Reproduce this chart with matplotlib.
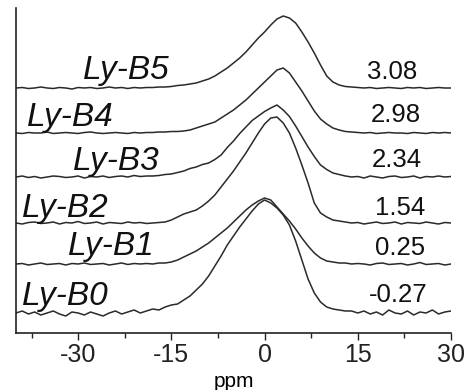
import matplotlib
matplotlib.use("Agg")
import matplotlib.pyplot as plt
from matplotlib.ticker import MultipleLocator
import numpy as np

plt.rcParams["font.family"] = ["Liberation Sans", "DejaVu Sans"]

# ── data: chemical shift (ppm) and spectra ──
ppm = list(range(-40, 31))

b0 = [0, 2, -1, 1, -2, 0, 2, -1, -3, 1, 0, -2, 1, -1, -3, 0, 2, -1, 1, 3, 0, 2,
      4, 3, 6, 8, 9, 13, 17, 23, 29, 37, 47, 57, 68, 77, 86, 94, 102, 109, 113,
      110, 105, 98, 88, 72, 53, 34, 20, 11, 6, 4, 3, 2, 2,
      0, 2, -1, 1, -2, 3, 0, -1, 2, -2, 1, 0, 3, -1, 1, 2]
b1 = [0, 0.5, -1, 0, 1, -0.5, 0, 0.5, -1, 0.5, 0, 1, -0.5, 0, 0.5, -1, 0, 1, -0.5, 0.5, 0, 0.5,
      0, 1, 1, 2, 4, 7, 10, 13, 17, 21, 26, 31, 36, 42, 48, 54, 59, 63, 66,
      64, 57, 50, 43, 35, 26, 18, 11, 6, 3, 2, 1, 1, 0,
      0.5, 0, -1, 0.5, 1, -0.5, 0, 0.5, -1, 0, 1.5, -0.5, 0, 0.5, -1, 0]
b2 = [0, -1, 0.5, 1, -0.5, 0, 1, -1, 0.5, 0, 1.5, -0.5, 0, 1, -1, 0.5, 0, -0.5, 1, 0, 0.5, -0.5,
      0, 0.5, 1, 3, 6, 9, 11, 13, 17, 22, 28, 36, 44, 52, 61, 70, 80, 90, 99,
      105, 106, 100, 90, 75, 58, 40, 20, 10, 6, 3, 2, 1, 0,
      0.5, -1, 0, 1, -0.5, 0, 1, -1, 0.5, 0, -0.5, 1, 0, -1, 0.5, 0]
b3 = [0, 1, -0.5, 0.5, -1, 0, 1, 0.5, -0.5, 0, 1, -1, 0.5, 0, 1, -0.5, 0.5, 1, 0, 1.5, 0.5, 1,
      1, 1.5, 2.5, 3, 4.5, 6, 8.5, 10, 12.5, 14, 17.5, 22, 29.5, 36, 43.5, 50, 56.5, 61, 65.5,
      69, 72, 67, 60.5, 51, 40.5, 30, 20.5, 12, 7.5, 4, 2.5, 1, 0,
      0.5, -1, 1, 0, -1, 0.5, 1, -0.5, 0, 1, -1, 0.5, 0, 1, 0, 0.5]
b4 = [0, -0.5, 0.5, 0, 0, 1, -0.5, 0, 0.5, 0, -0.5, 0.5, 1, 0, -0.5, 0, 0.5, 0, -0.5, 0.5, 0, 0.5,
      0.5, 1, 1, 1.5, 1.5, 2, 3, 5, 7, 9, 11, 15, 19, 23, 28, 33, 39, 45, 51,
      57, 63, 65, 60, 51, 42, 32, 22, 14, 9, 5, 3, 1.5, 1, 0.5,
      0, 0.5, -0.5, 0, 0.5, 0, 0, -0.5, 0.5, 0, -0.5, 0.5, 0, 0.5, 0]
b5 = [0, 0.5, -0.5, 0, 1, 0, -0.5, 0.5, 0, -1, 0.5, 0, 0.5, -0.5, 0, 1, 0, 0.5, -0.5, 0.5, 0, 0.5,
      0.5, 1, 1, 1.5, 2.5, 3, 4, 5, 7, 9, 12, 16, 20, 25, 30, 36, 43, 50, 56,
      63, 69, 72, 70, 65, 56, 46, 35, 23, 12, 6, 3, 1.5, 1,
      0.5, 0, 0.5, -0.5, 0, 0.5, 0, -0.5, 0.5, 0, 0.5, -0.5, 0, 0.5, 0, 0]

samples = ["Ly-B0", "Ly-B1", "Ly-B2", "Ly-B3", "Ly-B4", "Ly-B5"]
shifts = ["-0.27", "0.25", "1.54", "2.34", "2.98", "3.08"]
spectra = [b0, b1, b2, b3, b4, b5]

# ── layout (vertical stacking and label spots) ──
offsets = [20, 69, 110, 156, 200, 245]
name_xy = [(-32.0, 28), (-24.6, 78), (-32.0, 116), (-23.9, 163), (-31.3, 207), (-22.3, 254)]
shift_xy = [(21.5, 31), (21.8, 78), (21.8, 118), (21.3, 166), (21.1, 211), (20.5, 254)]

LINE = "#2a2a2a"

fig = plt.figure(figsize=(4.7, 3.9), dpi=100)
ax = fig.add_axes([16 / 470, 57 / 390, 435 / 470, 325 / 390])

for spec, off in zip(spectra, offsets):
    ax.plot(ppm, np.array(spec) + off, color=LINE, lw=1.1)

for name, (x, y) in zip(samples, name_xy):
    ax.text(x, y, name, fontsize=24, style="italic", ha="center", va="baseline", color="#111111")
for s, (x, y) in zip(shifts, shift_xy):
    ax.text(x, y, s, fontsize=18.5, ha="center", va="baseline", color="#111111")

ax.set_xlim(-40, 30)
ax.set_ylim(0, 325)
ax.xaxis.set_major_locator(MultipleLocator(15))
ax.xaxis.set_minor_locator(MultipleLocator(7.5))
ax.tick_params(axis="x", which="major", length=5, width=1, labelsize=18, pad=2, colors="#222222")
ax.tick_params(axis="x", which="minor", length=3.5, width=1, colors="#222222")
ax.set_xticks([-30, -15, 0, 15, 30])
ax.set_xticklabels(["-30", "-15", "0", "15", "30"])
ax.set_yticks([])
ax.set_xlabel("ppm", fontsize=15, labelpad=4)

for side in ["top", "right"]:
    ax.spines[side].set_visible(False)
for side in ["left", "bottom"]:
    ax.spines[side].set_linewidth(1.2)
    ax.spines[side].set_color("#222222")

plt.savefig("out.png", dpi=100)
plt.close()
